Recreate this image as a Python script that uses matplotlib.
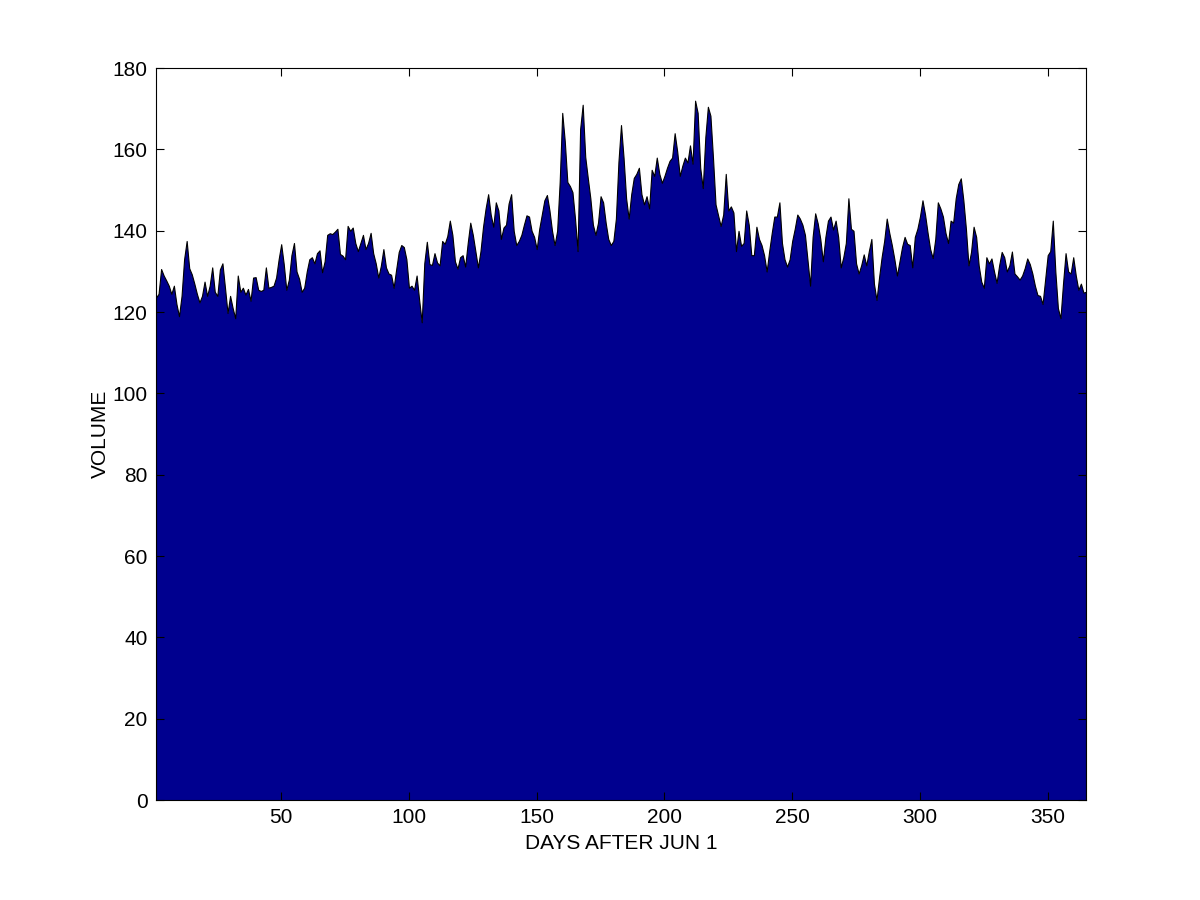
import numpy as np
import matplotlib.pyplot as plt

# --- данные: объём по дням ---
volume = [
    123.6, 124.5, 130.6, 129.0, 127.8, 126.5, 124.5, 126.5, 122.0, 119.0,
    124.0, 133.0, 137.5, 130.8, 129.3, 127.0, 124.5, 122.4, 124.0, 127.5,
    124.0, 126.5, 131.0, 125.0, 124.0, 130.5, 132.0, 126.0, 119.8, 124.0,
    121.0, 118.5, 129.0, 125.0, 126.0, 124.3, 125.7, 122.8, 128.5, 128.6,
    125.5, 125.2, 125.5, 131.0, 126.0, 126.2, 126.5, 128.5, 133.0, 136.7,
    131.8, 125.5, 128.0, 134.0, 137.0, 130.0, 128.2, 125.0, 126.0, 130.0,
    133.0, 133.5, 132.0, 134.5, 135.2, 129.8, 132.5, 139.0, 139.4, 139.2,
    139.8, 140.5, 134.3, 133.9, 133.0, 141.2, 140.0, 140.8, 137.0, 135.0,
    137.0, 139.0, 135.5, 137.0, 139.5, 134.5, 132.0, 128.5, 131.4, 135.5,
    131.0, 129.5, 129.2, 126.0, 130.5, 134.8, 136.5, 136.0, 133.0, 126.0,
    126.5, 125.5, 129.0, 123.0, 117.5, 132.0, 137.3, 131.8, 131.6, 134.5,
    132.2, 131.5, 137.5, 136.8, 138.7, 142.5, 139.0, 132.5, 130.7, 133.5,
    134.0, 131.2, 137.0, 142.0, 139.0, 135.0, 131.0, 135.0, 141.0, 145.5,
    149.0, 144.0, 141.0, 147.0, 145.0, 138.0, 140.8, 141.5, 146.7, 149.0,
    140.0, 136.5, 137.5, 139.0, 141.5, 143.8, 143.5, 140.0, 138.5, 135.5,
    140.5, 144.0, 147.5, 148.8, 145.0, 140.0, 136.5, 140.0, 152.0, 169.0,
    162.0, 152.0, 151.0, 149.5, 143.0, 135.0, 165.0, 171.0, 158.2, 153.0,
    148.0, 141.5, 139.0, 142.0, 148.5, 147.0, 142.0, 138.0, 136.5, 137.5,
    143.0, 157.0, 166.0, 158.0, 148.0, 143.0, 149.0, 153.0, 154.0, 155.5,
    149.0, 146.5, 148.5, 145.5, 155.0, 153.5, 158.0, 154.0, 151.8, 153.5,
    155.5, 157.2, 158.0, 164.0, 159.5, 153.5, 156.0, 158.0, 156.8, 161.0,
    156.5, 172.0, 169.0, 155.5, 150.5, 163.0, 170.5, 168.3, 158.0, 146.5,
    143.8, 141.2, 144.0, 154.0, 145.0, 146.0, 144.5, 135.0, 140.0, 136.3,
    137.0, 145.0, 141.5, 134.0, 134.0, 141.0, 138.0, 136.5, 134.0, 130.0,
    135.0, 139.5, 143.5, 143.5, 147.0, 137.0, 133.0, 131.2, 133.0, 137.5,
    140.5, 144.0, 143.0, 141.5, 139.0, 132.8, 126.5, 138.5, 144.3, 141.8,
    138.0, 132.5, 138.5, 142.5, 143.5, 140.3, 142.5, 138.5, 131.0, 133.5,
    137.0, 148.0, 140.5, 140.0, 132.0, 129.5, 131.5, 134.2, 131.5, 135.0,
    138.0, 127.0, 123.0, 128.5, 133.5, 137.5, 143.0, 139.5, 136.5, 133.0,
    129.0, 132.5, 136.0, 138.5, 136.8, 136.5, 131.0, 138.5, 140.5, 143.5,
    147.5, 144.0, 139.5, 135.5, 133.3, 138.0, 147.0, 145.5, 143.5, 139.5,
    137.0, 142.5, 142.0, 148.0, 151.5, 152.9, 147.5, 140.5, 131.5, 134.8,
    141.0, 138.5, 131.5, 127.5, 126.0, 133.5, 132.0, 133.2, 130.0, 127.2,
    131.5, 134.8, 133.5, 130.0, 131.5, 134.9, 129.5, 128.8, 128.0, 129.0,
    130.8, 133.2, 131.8, 129.5, 126.5, 124.2, 124.0, 122.0, 128.0, 134.0,
    135.0, 142.5, 130.0, 121.0, 118.5, 127.0, 134.5, 130.0, 129.5, 133.5,
    129.0, 125.5, 127.0, 124.8, 125.0,
]
days = np.arange(1, len(volume) + 1)

x_ticks = [50, 100, 150, 200, 250, 300, 350]
y_ticks = [0, 20, 40, 60, 80, 100, 120, 140, 160, 180]

plt.rcParams['font.family'] = ['Liberation Sans', 'DejaVu Sans']

fig = plt.figure(figsize=(12, 9), dpi=100)
ax = fig.add_axes([0.13, 0.111, 0.775, 0.8133])

ax.fill_between(days, volume, 0, facecolor=(0, 0, 0.5625),
                edgecolor='black', linewidth=0.8)

ax.set_xlim(1, len(volume))
ax.set_ylim(0, 180)
ax.set_xticks(x_ticks)
ax.set_yticks(y_ticks)
ax.tick_params(direction='in', top=True, right=True, length=6,
               width=0.8, labelsize=15, pad=6)
for s in ax.spines.values():
    s.set_linewidth(0.8)

ax.set_xlabel('DAYS AFTER JUN 1', fontsize=15, labelpad=5)
ax.set_ylabel('VOLUME', fontsize=15)
ax.yaxis.set_label_coords(-0.05, 0.5)

fig.savefig('out.png', dpi=100)
